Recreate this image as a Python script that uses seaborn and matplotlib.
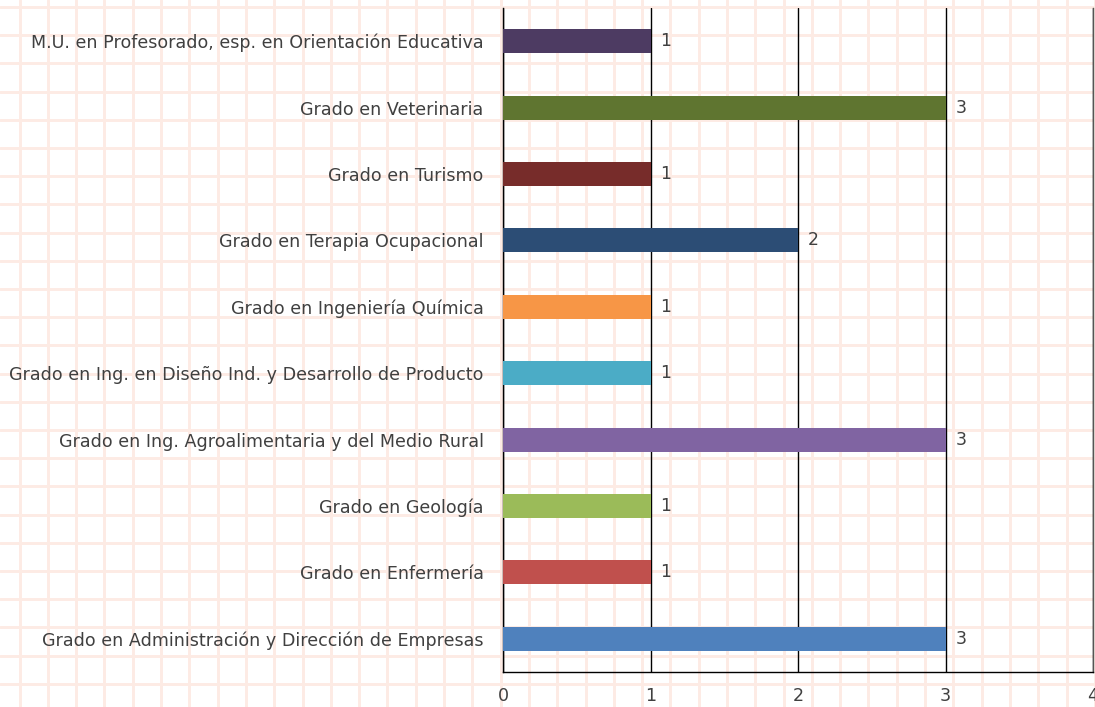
import matplotlib
matplotlib.use("Agg")
import seaborn as sns
import matplotlib.pyplot as plt
import pandas as pd

# datos (de arriba hacia abajo)
titulaciones = [
    "M.U. en Profesorado, esp. en Orientación Educativa",
    "Grado en Veterinaria",
    "Grado en Turismo",
    "Grado en Terapia Ocupacional",
    "Grado en Ingeniería Química",
    "Grado en Ing. en Diseño Ind. y Desarrollo de Producto",
    "Grado en Ing. Agroalimentaria y del Medio Rural",
    "Grado en Geología",
    "Grado en Enfermería",
    "Grado en Administración y Dirección de Empresas",
]
valores = [1, 3, 1, 2, 1, 1, 3, 1, 1, 3]
colores = ["#4d3b62", "#5f7530", "#772c2a", "#2c4d75", "#f79646",
           "#4bacc6", "#8064a2", "#9bbb59", "#c0504d", "#4f81bd"]
ticks_x = [0, 1, 2, 3, 4]

df = pd.DataFrame({"titulacion": titulaciones, "valor": valores})

sns.set_style("white")
plt.rcParams["font.family"] = ["DejaVu Sans"]

fig = plt.figure(figsize=(10.95, 7.07), dpi=100)

# fondo tipo papel cuadriculado
bg = fig.add_axes([0, 0, 1, 1], zorder=-1)
bg.set_xlim(0, 1095)
bg.set_ylim(707, 0)
bg.axis("off")
x = 19.5
while x < 1095:
    bg.axvline(x, color="#fdebe4", lw=2.1)
    x += 28.3
y = 7.0
while y < 707:
    bg.axhline(y, color="#fdebe4", lw=2.1)
    y += 28.2

ax = fig.add_axes([503 / 1095, 35 / 707, 590 / 1095, 664 / 707])
ax.patch.set_alpha(0)
sns.barplot(data=df, x="valor", y="titulacion", hue="titulacion",
            palette=colores, saturation=1, orient="h", width=0.36,
            legend=False, ax=ax, zorder=3, edgecolor="none", linewidth=0)

for c in ax.containers:
    ax.bar_label(c, padding=7, fontsize=12.5, color="#404040")

ax.set_xlim(0, 4)
ax.set_xticks(ticks_x)
ax.set_xlabel("")
ax.set_ylabel("")
ax.xaxis.grid(True, color="black", lw=1)
ax.set_axisbelow(True)
ax.tick_params(axis="both", length=0, labelsize=12.6, colors="#404040")
ax.tick_params(axis="x", pad=11)
ax.tick_params(axis="y", pad=14)
for s in ["left", "bottom", "right"]:
    ax.spines[s].set_visible(True)
    ax.spines[s].set_color("black")
    ax.spines[s].set_linewidth(1)
ax.spines["right"].set_color("#555555")
ax.spines["top"].set_visible(False)

plt.savefig("out.png", dpi=100)
